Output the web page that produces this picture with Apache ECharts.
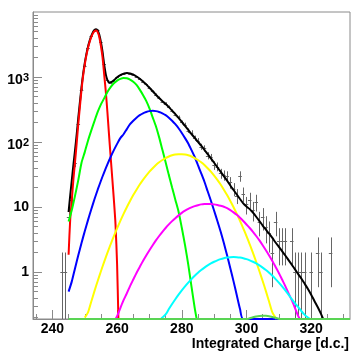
<!DOCTYPE html>
<html><head><meta charset="utf-8">
<script src="https://cdn.jsdelivr.net/npm/echarts@6/dist/echarts.min.js"></script>
<style>html,body{margin:0;padding:0;background:#fff}#c{width:352px;height:351px}</style>
</head><body><div id="c"></div>
<script>
// ---- axis ticks ----
const xTickLabels = [240, 260, 280, 300, 320];
const xMinorTicks = [235, 245, 250, 255, 265, 270, 275, 285, 290, 295, 305, 310, 315, 325, 330];
const yTickLabels = [1, 10, 100, 1000];
const yMinorTicks = [0.2,0.3,0.4,0.5,0.6,0.7,0.8,0.9, 2,3,4,5,6,7,8,9, 20,30,40,50,60,70,80,90,
  200,300,400,500,600,700,800,900, 2000,3000,4000,5000,6000,7000,8000,9000];

// ---- histogram ----
const binCenters = [243,244,245,246,247,248,249,250,251,252,253,254,255,256,257,258,259,260,261,262,263,264,265,266,267,268,269,270,271,272,273,274,275,276,277,278,279,280,281,282,283,284,285,286,287,288,289,290,291,292,293,294,295,296,297,298,299,300,301,302,303,304,305,306,307,308,309,310,311,312,313,314,315,316,317,318,319,320,321,322,323,324,325,326];
const counts = [1,1,7,13,48,190,640,1500,2800,4200,5100,5300,3400,1600,900,820,880,1000,1080,1130,1150,1120,1090,1000,930,850,770,690,600,535,480,420,390,345,300,265,240,200,185,150,140,115,105,85,80,62,58,44,42,33,31,30,24,19,15,30,16,11,13,9,12,6,7,5,4,2,6,3,3,3,0,3,1,1,1,1,0,1,0,2,1,0,0,2];

// ---- total fit ----
const fitX = [245,245.5,246,246.5,247,247.5,248,248.5,249,249.5,250,250.5,251,251.5,252,252.5,253,253.5,254,254.5,255,255.5,256,256.5,257,257.5,258,258.5,259,260,261,262,263,264,265,266,267,268,269,270,271,272,273,274,275,276,277,278,279,280,281,282,283,284,285,286,287,288,289,290,291,292,293,294,295,296,297,298,299,300,301,302,303,304,305,306,307,308,309,310,311,312,313,314,315,316,317,318,319,320,321,322,323,323.7];
const fitY = [8.4,15,26,45,75,130,235,410,700,1120,1640,2250,2920,3600,4270,4850,5280,5450,5200,4450,3420,2440,1560,1100,900,820,830,850,890,990,1070,1120,1150,1135,1090,1020,940,855,770,685,605,535,475,425,385,345,305,268,235,205,178,154,133,116,101,88,76,65,56,48,41,35,30,25.5,21.5,18.3,15.6,13.3,11.4,10.2,9.3,8.2,7.1,6.1,5.2,4.5,3.9,3.35,2.85,2.45,2.1,1.8,1.53,1.3,1.1,0.93,0.79,0.66,0.55,0.45,0.36,0.29,0.23,0.19];

// ---- components ----
const redX = [245,245.5,246,246.5,247,247.5,248,248.5,249,249.5,250,250.5,251,251.5,252,252.5,253,253.5,254,254.5,255,255.5,256,256.5,257,257.5,258,258.5,259,259.5,260,260.4];
const redY = [1.85,6.4,13,27,50,95,190,350,640,1050,1550,2150,2800,3450,4100,4650,5050,5200,4900,4100,3000,2000,1100,600,290,130,60,28,13,5.5,1.3,0.19];

const greenX = [245,246,247,248,249,250,251,252,253,254,255,256,257,258,259,260,261,262,263,264,265,266,267,268,269,270,271,272,273,274,275,276,277,278,279,280,281,282,283,284,284.6];
const greenY = [6.0,9.0,15,26,48,70,105,150,210,290,380,470,590,700,800,880,935,965,958,915,845,755,640,530,430,330,240,175,118,76,49,31,20,13,8.5,4.8,2.6,1.3,0.6,0.28,0.19];

const blueX = [245,246,247,248,249,250,251,252,253,254,255,256,257,258,259,260,261,262,263,264,265,266,267,268,269,270,271,272,273,274,275,276,277,278,279,280,281,282,283,284,285,286,287,288,289,290,291,292,293,294,295,296,297,298,299,311];
const blueY = [0.5,0.72,1.15,1.81,2.8,4.25,6.3,9.2,13.2,18.5,25.4,34.3,45.4,58.9,75,93.7,115,132,158,188,213,237,259,277,290,299,302,299,290,277,259,237,213,188,163,138,115,95,75,58.9,44,33,24.5,17.5,12.5,8.8,6.1,4.2,2.8,1.81,1.15,0.72,0.44,0.27,0.19,0.19];

const yellowX = [250,251,252,253,254,255,256,257,258,259,260,261,262,263,264,265,266,267,268,269,270,271,272,273,274,275,276,277,278,279,280,281,282,283,284,285,286,287,288,289,290,291,292,293,294,295,296,297,298,299,300,301,302,303,304,305,306,307,308,309.3];
const yellowY = [0.2,0.24,0.35,0.51,0.73,1.03,1.44,1.98,2.68,3.58,4.72,6.14,7.87,9.95,12.4,15.3,18.5,22.2,26.2,30.5,35,39.6,44.3,48.8,53,56.8,60,62.5,64.3,65.2,65.2,64.3,62.5,60,56.8,53,48.8,44.3,39.6,35,30.5,26.2,22.2,18.5,15.3,12.4,9.95,7.87,6.14,4.72,3.58,2.68,1.98,1.44,1.03,0.73,0.51,0.35,0.24,0.19];

const magentaX = [259.5,260,261,262,263,264,265,266,267,268,269,270,271,272,273,274,275,276,277,278,279,280,281,282,283,284,285,286,287,288,289,290,291,292,293,294,295,296,297,298,299,300,301,302,303,304,305,306,307,308,309,310,311,312,313,314,315,316,316.5];
const magentaY = [0.19,0.21,0.28,0.37,0.47,0.61,0.77,0.97,1.2,1.48,1.8,2.17,2.59,3.07,3.59,4.16,4.77,5.41,6.08,6.76,7.45,8.15,8.8,9.4,9.9,10.35,10.7,11.0,11.15,11.2,11.15,11.0,10.75,10.45,10.1,9.6,9.0,8.3,7.6,6.85,6.1,5.4,4.77,4.16,3.59,3.07,2.59,2.17,1.8,1.48,1.2,0.97,0.77,0.61,0.47,0.37,0.28,0.21,0.19];

const cyanX = [273.6,274,275,276,277,278,279,280,281,282,283,284,285,286,287,288,289,290,291,292,293,294,295,296,297,298,299,300,301,302,303,304,305,306,307,308,309,310,311,312,313,314,315,316,317,318,319,319.6];
const cyanY = [0.19,0.2,0.223,0.27,0.323,0.383,0.45,0.524,0.604,0.69,0.78,0.877,0.975,1.074,1.172,1.268,1.358,1.442,1.517,1.581,1.633,1.671,1.694,1.702,1.694,1.671,1.633,1.581,1.517,1.442,1.358,1.268,1.172,1.074,0.975,0.877,0.78,0.69,0.604,0.524,0.45,0.383,0.33,0.29,0.25,0.22,0.2,0.19];

const limeX = [245,300,301,302,303,304,305,306,307,308,309,310.5,332];
const limeY = [0.19,0.19,0.195,0.202,0.208,0.212,0.214,0.213,0.21,0.204,0.198,0.19,0.19];

const Y_MIN = 0.19, Y_MAX = 10000;
const FONT = 'Liberation Sans, Arial, Helvetica, sans-serif';
const FRAME = '#8a8a8a';

function pairs(xs, ys) { return xs.map((x, i) => [x, ys[i]]); }
function curve(name, color, xs, ys, z) {
  return { name, type: 'line', data: pairs(xs, ys), symbol: 'none', showSymbol: false,
    smooth: 0.25, clip: false, silent: true, z: z,
    lineStyle: { color, width: 2 } };
}

const chart = echarts.init(document.getElementById('c'), null, { renderer: 'canvas' });
chart.setOption({
  animation: false,
  backgroundColor: '#ffffff',
  grid: { left: 33, right: 2, top: 12, bottom: 32, show: true, borderColor: FRAME, borderWidth: 1,
          containLabel: false, outerBoundsMode: 'none' },
  xAxis: [
    { type: 'value', min: 234, max: 332, position: 'bottom',
      axisLine: { show: true, lineStyle: { color: FRAME, width: 1 } },
      axisTick: { show: true, inside: true, length: 9, customValues: xTickLabels, lineStyle: { color: FRAME } },
      axisLabel: { customValues: xTickLabels, margin: 3, fontSize: 14, fontWeight: 'bold', color: '#000', fontFamily: FONT },
      splitLine: { show: false },
      name: 'Integrated Charge [d.c.]', nameLocation: 'end', nameGap: -1,
      nameTextStyle: { fontSize: 14, fontWeight: 'bold', color: '#000', fontFamily: FONT,
        align: 'right', verticalAlign: 'top', padding: [18, 0, 0, 0] } },
    { type: 'value', min: 234, max: 332, position: 'bottom',
      axisLine: { show: false },
      axisTick: { show: true, inside: true, length: 5, customValues: xMinorTicks, lineStyle: { color: FRAME } },
      axisLabel: { show: false }, splitLine: { show: false } }
  ],
  yAxis: [
    { type: 'log', logBase: 10, min: Y_MIN, max: Y_MAX, position: 'left',
      axisLine: { show: true, lineStyle: { color: FRAME, width: 1 } },
      axisTick: { show: true, inside: true, length: 9, customValues: yTickLabels, lineStyle: { color: FRAME } },
      axisLabel: { customValues: yTickLabels, margin: 4, fontSize: 14, fontWeight: 'bold', color: '#000', fontFamily: FONT,
        formatter: function (v) {
          const e = Math.round(Math.log10(v));
          if (e === 0) return '1';
          if (e === 1) return '10';
          return '{b|10}{s|' + e + '}';
        },
        rich: {
          b: { fontSize: 14, fontWeight: 'bold', color: '#000', fontFamily: FONT, lineHeight: 14, padding: [7, 0, 0, 0], verticalAlign: 'middle' },
          s: { fontSize: 11, fontWeight: 'bold', color: '#000', fontFamily: FONT, lineHeight: 11, padding: [2, 0, 0, 0], verticalAlign: 'middle' }
        } },
      splitLine: { show: false } },
    { type: 'log', logBase: 10, min: Y_MIN, max: Y_MAX, position: 'left',
      axisLine: { show: false },
      axisTick: { show: true, inside: true, length: 5, customValues: yMinorTicks, lineStyle: { color: FRAME } },
      axisLabel: { show: false }, splitLine: { show: false } }
  ],
  series: [
    { type: 'custom', name: 'data', z: 1, silent: true, clip: false,
      data: binCenters.map((x, i) => [x, counts[i]]).filter(d => d[1] > 0),
      renderItem: function (params, api) {
        const x = api.value(0), n = api.value(1);
        const err = Math.sqrt(n);
        const cs = params.coordSys;
        const bottom = cs.y + cs.height;
        const pMid = api.coord([x, n]);
        const pHi = api.coord([x, n + err]);
        const yLo = (n - err) > Y_MIN ? api.coord([x, n - err])[1] : bottom;
        const pL = api.coord([x - 0.55, n]), pR = api.coord([x + 0.55, n]);
        const px = Math.round(pMid[0]) + 0.5, py = Math.round(pMid[1]) + 0.5;
        return { type: 'group', children: [
          { type: 'line', shape: { x1: px, y1: Math.max(pHi[1], cs.y), x2: px, y2: yLo }, style: { stroke: '#666', lineWidth: 1 } },
          { type: 'line', shape: { x1: pL[0], y1: py, x2: pR[0], y2: py }, style: { stroke: '#666', lineWidth: 1 } }
        ] };
      } },
    curve('total', '#000000', fitX, fitY, 3),
    curve('ped', '#ff0000', redX, redY, 4),
    curve('1pe', '#00ff00', greenX, greenY, 4),
    curve('2pe', '#0000ff', blueX, blueY, 4),
    curve('3pe', '#ffff00', yellowX, yellowY, 4),
    curve('4pe', '#ff00ff', magentaX, magentaY, 4),
    curve('5pe', '#00ffff', cyanX, cyanY, 4),
    curve('6pe', '#59d454', limeX, limeY, 5)
  ]
});
</script></body></html>
